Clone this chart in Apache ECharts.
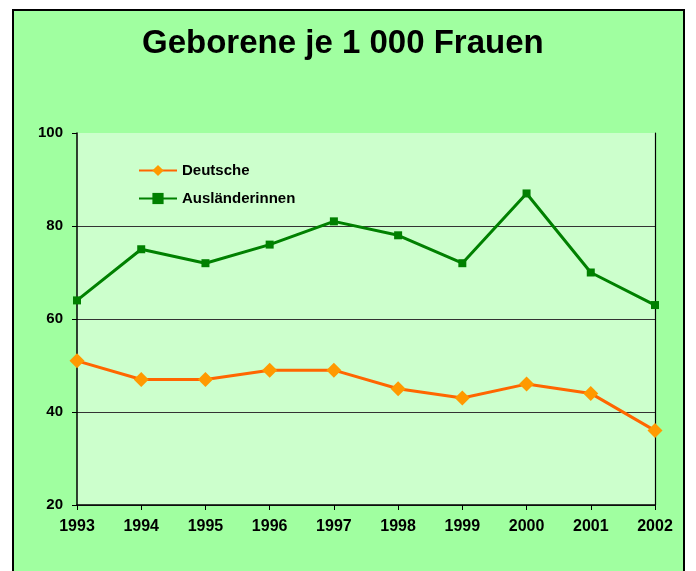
<!DOCTYPE html>
<html>
<head>
<meta charset="utf-8">
<script src="https://cdn.jsdelivr.net/npm/echarts@6/dist/echarts.min.js"></script>
<style>
  html, body { margin: 0; padding: 0; background: #fff; }
  #chart { width: 696px; height: 571px; }
</style>
</head>
<body>
<div id="chart"></div>
<script>
const years = ['1993', '1994', '1995', '1996', '1997', '1998', '1999', '2000', '2001', '2002'];
const deutsche = [51, 47, 47, 49, 49, 45, 43, 46, 44, 36];
const auslaenderinnen = [64, 75, 72, 76, 81, 78, 72, 87, 70, 63];

const chart = echarts.init(document.getElementById('chart'));
const font = 'Liberation Sans, Arial, sans-serif';

const option = {
  animation: false,
  backgroundColor: '#fff',
  graphic: [
    {
      type: 'rect',
      z: -10,
      shape: { x: 13, y: 10, width: 671, height: 580 },
      style: { fill: '#a0ffa0', stroke: '#000', lineWidth: 2 }
    }
  ],
  title: {
    text: 'Geborene je 1 000 Frauen',
    left: 137,
    top: 22,
    textStyle: { fontFamily: font, fontWeight: 'bold', fontSize: 33, color: '#000' }
  },
  legend: {
    orient: 'vertical',
    left: 133,
    top: 158,
    itemGap: 13,
    itemWidth: 38,
    itemHeight: 14,
    textStyle: { fontFamily: font, fontWeight: 'bold', fontSize: 15, color: '#000' },
    data: ['Deutsche', 'Ausländerinnen']
  },
  grid: {
    left: 77,
    right: 41,
    top: 133,
    bottom: 66,
    show: true,
    backgroundColor: '#ccffcc',
    borderWidth: 0
  },
  xAxis: {
    type: 'category',
    data: years,
    boundaryGap: false,
    axisLine: { lineStyle: { color: '#000', width: 1.5 } },
    axisTick: { show: true, length: 5, lineStyle: { color: '#000' } },
    axisLabel: { fontFamily: font, fontWeight: 'bold', fontSize: 16, color: '#000', margin: 14, interval: 0 }
  },
  yAxis: [
    {
      type: 'value',
      min: 20,
      max: 100,
      interval: 20,
      axisLine: { show: true, lineStyle: { color: '#000', width: 1.5 } },
      axisTick: { show: true, length: 5, lineStyle: { color: '#000' } },
      axisLabel: { fontFamily: font, fontWeight: 'bold', fontSize: 15, color: '#000', margin: 14 },
      splitLine: { show: true, showMaxLine: false, lineStyle: { color: '#333', width: 1 } }
    },
    {
      type: 'value',
      min: 20,
      max: 100,
      interval: 20,
      position: 'right',
      axisLine: { show: true, lineStyle: { color: '#000', width: 1.2 } },
      axisTick: { show: false },
      axisLabel: { show: false },
      splitLine: { show: false }
    }
  ],
  series: [
    {
      name: 'Deutsche',
      type: 'line',
      data: deutsche,
      symbol: 'diamond',
      symbolSize: 15,
      lineStyle: { color: '#ff6600', width: 3 },
      itemStyle: { color: '#ff9900' }
    },
    {
      name: 'Ausländerinnen',
      type: 'line',
      data: auslaenderinnen,
      symbol: 'rect',
      symbolSize: 8,
      lineStyle: { color: '#008000', width: 3 },
      itemStyle: { color: '#008000' }
    }
  ]
};

chart.setOption(option);
</script>
</body>
</html>
